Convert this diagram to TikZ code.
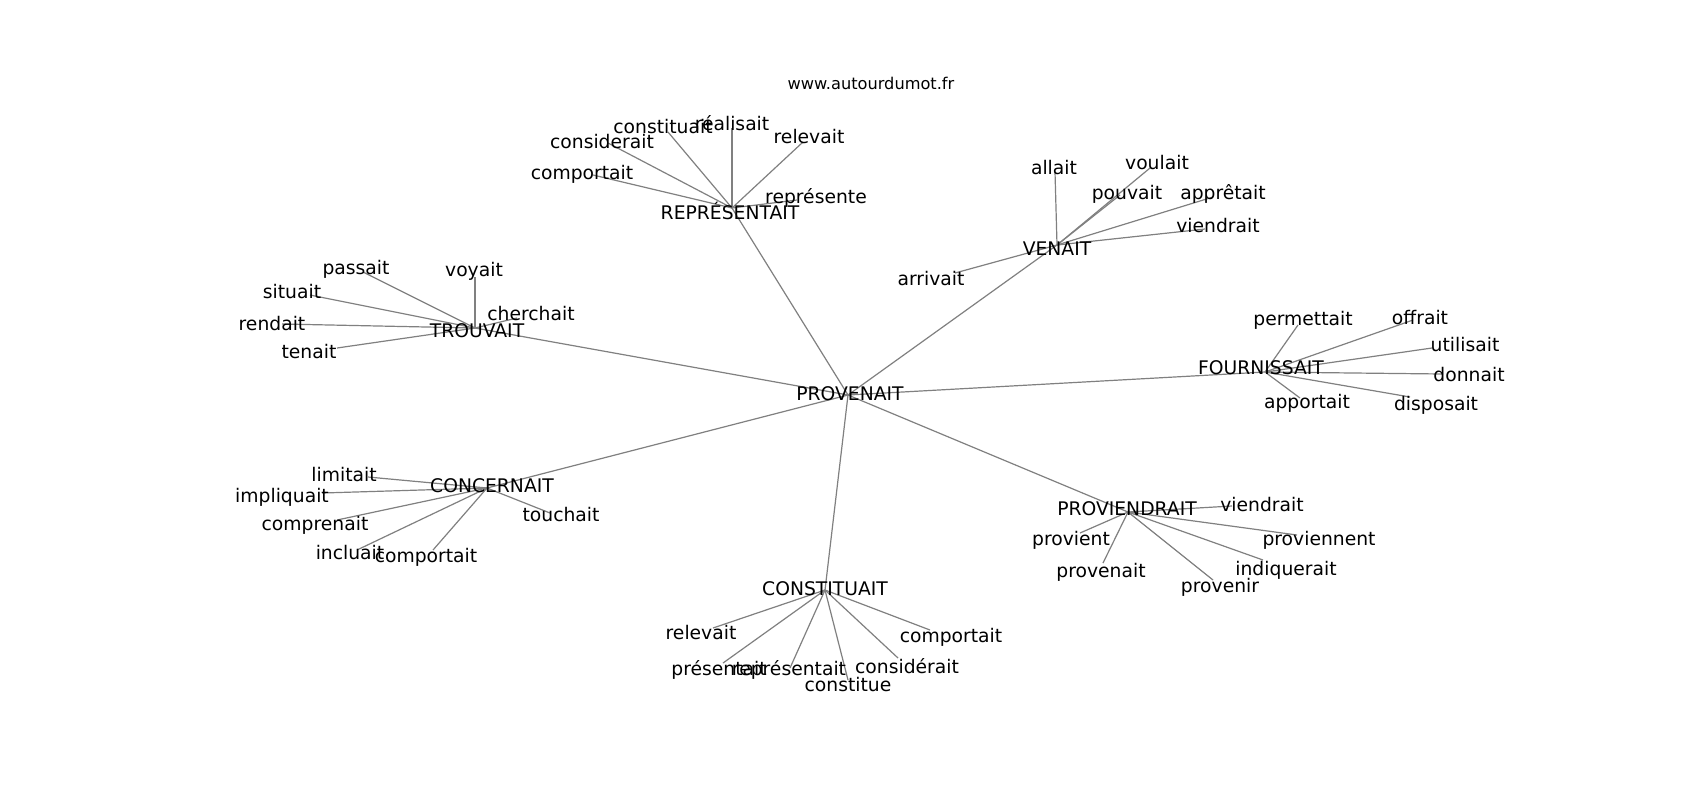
\documentclass[tikz,border=0pt]{standalone}
\usepackage{fontspec}
\setmainfont{DejaVu Sans}
\begin{document}
\begin{tikzpicture}[x=0.5pt,y=-0.5pt,
  edge/.style={draw=black!50,line width=0.6pt},
  lbl/.style={inner sep=0pt,anchor=base,font=\fontsize{9.37}{11}\selectfont,text=black},
  ttl/.style={inner sep=0pt,anchor=base,font=\fontsize{8.1}{10}\selectfont,text=black}]
\useasboundingbox[fill=white] (0,0) rectangle (1700,800);
% node points
\coordinate (hub) at (848,395);
\coordinate (rep) at (732,208);
\coordinate (comportaitA) at (593,175);
\coordinate (considerait) at (608,143);
\coordinate (constituait) at (668,132);
\coordinate (realisait) at (732,128);
\coordinate (relevaitA) at (803,142);
\coordinate (represente) at (797,200);
\coordinate (ven) at (1057,245);
\coordinate (allait) at (1055,172);
\coordinate (voulait) at (1150,168);
\coordinate (pouvait) at (1120,195);
\coordinate (appretait) at (1213,197);
\coordinate (viendraitA) at (1205,229);
\coordinate (arrivait) at (955,273);
\coordinate (tro) at (475,328);
\coordinate (passait) at (363,272);
\coordinate (voyait) at (475,277);
\coordinate (situait) at (310,295);
\coordinate (cherchait) at (517,318);
\coordinate (rendait) at (282,324);
\coordinate (tenait) at (337,348);
\coordinate (fou) at (1265,372);
\coordinate (permettait) at (1298,325);
\coordinate (offrait) at (1413,320);
\coordinate (utilisait) at (1432,348);
\coordinate (donnait) at (1443,374);
\coordinate (apportait) at (1300,398);
\coordinate (disposait) at (1410,397);
\coordinate (con) at (487,488);
\coordinate (limitait) at (368,477);
\coordinate (impliquait) at (322,493);
\coordinate (comprenait) at (337,520);
\coordinate (touchait) at (550,513);
\coordinate (incluait) at (357,550);
\coordinate (comportaitB) at (433,550);
\coordinate (pro) at (1128,512);
\coordinate (viendraitB) at (1232,506);
\coordinate (provient) at (1080,533);
\coordinate (proviennent) at (1297,535);
\coordinate (indiquerait) at (1263,560);
\coordinate (provenait) at (1103,563);
\coordinate (provenir) at (1213,580);
\coordinate (cst) at (825,590);
\coordinate (relevaitB) at (713,628);
\coordinate (comportaitC) at (930,630);
\coordinate (presentait) at (723,663);
\coordinate (representait) at (790,668);
\coordinate (consideraitB) at (898,658);
\coordinate (constitue) at (848,680);
% edges
\foreach \c in {rep,ven,tro,fou,con,pro,cst} \draw[edge] (hub) -- (\c);
\foreach \c in {comportaitA,considerait,constituait,realisait,relevaitA,represente} \draw[edge] (rep) -- (\c);
\foreach \c in {allait,voulait,pouvait,appretait,viendraitA,arrivait} \draw[edge] (ven) -- (\c);
\foreach \c in {passait,voyait,situait,cherchait,rendait,tenait} \draw[edge] (tro) -- (\c);
\foreach \c in {permettait,offrait,utilisait,donnait,apportait,disposait} \draw[edge] (fou) -- (\c);
\foreach \c in {limitait,impliquait,comprenait,touchait,incluait,comportaitB} \draw[edge] (con) -- (\c);
\foreach \c in {viendraitB,provient,proviennent,indiquerait,provenait,provenir} \draw[edge] (pro) -- (\c);
\foreach \c in {relevaitB,comportaitC,presentait,representait,consideraitB,constitue} \draw[edge] (cst) -- (\c);
% labels
\node[ttl] (title) at (871,89) {www.autourdumot.fr};
\node[lbl] (hub-t) at (850,400) {PROVENAIT};
\node[lbl] (rep-t) at (730,219) {REPRÉSENTAIT};
\node[lbl] (comportaitA-t) at (582,179) {comportait};
\node[lbl] (considerait-t) at (602,148) {considerait};
\node[lbl] (constituait-t) at (663,133) {constituait};
\node[lbl] (realisait-t) at (732,130) {réalisait};
\node[lbl] (relevaitA-t) at (809,143) {relevait};
\node[lbl] (represente-t) at (816,203) {représente};
\node[lbl] (ven-t) at (1057,255) {VENAIT};
\node[lbl] (allait-t) at (1054,174) {allait};
\node[lbl] (voulait-t) at (1157,169) {voulait};
\node[lbl] (pouvait-t) at (1127,199) {pouvait};
\node[lbl] (appretait-t) at (1223,199) {apprêtait};
\node[lbl] (viendraitA-t) at (1218,232) {viendrait};
\node[lbl] (arrivait-t) at (931,285) {arrivait};
\node[lbl] (tro-t) at (477,337) {TROUVAIT};
\node[lbl] (passait-t) at (356,274) {passait};
\node[lbl] (voyait-t) at (474,276) {voyait};
\node[lbl] (situait-t) at (292,298) {situait};
\node[lbl] (cherchait-t) at (531,320) {cherchait};
\node[lbl] (rendait-t) at (272,330) {rendait};
\node[lbl] (tenait-t) at (309,358) {tenait};
\node[lbl] (fou-t) at (1261,374) {FOURNISSAIT};
\node[lbl] (permettait-t) at (1303,325) {permettait};
\node[lbl] (offrait-t) at (1420,324) {offrait};
\node[lbl] (utilisait-t) at (1465,351) {utilisait};
\node[lbl] (donnait-t) at (1469,381) {donnait};
\node[lbl] (apportait-t) at (1307,408) {apportait};
\node[lbl] (disposait-t) at (1436,410) {disposait};
\node[lbl] (con-t) at (492,492) {CONCERNAIT};
\node[lbl] (limitait-t) at (344,481) {limitait};
\node[lbl] (impliquait-t) at (282,502) {impliquait};
\node[lbl] (comprenait-t) at (315,530) {comprenait};
\node[lbl] (touchait-t) at (561,521) {touchait};
\node[lbl] (incluait-t) at (350,559) {incluait};
\node[lbl] (comportaitB-t) at (426,562) {comportait};
\node[lbl] (pro-t) at (1127,515) {PROVIENDRAIT};
\node[lbl] (viendraitB-t) at (1262,511) {viendrait};
\node[lbl] (provient-t) at (1071,545) {provient};
\node[lbl] (proviennent-t) at (1319,545) {proviennent};
\node[lbl] (indiquerait-t) at (1286,575) {indiquerait};
\node[lbl] (provenait-t) at (1101,577) {provenait};
\node[lbl] (provenir-t) at (1220,592) {provenir};
\node[lbl] (cst-t) at (825,595) {CONSTITUAIT};
\node[lbl] (relevaitB-t) at (701,639) {relevait};
\node[lbl] (comportaitC-t) at (951,642) {comportait};
\node[lbl] (presentait-t) at (719,675) {présentait};
\node[lbl] (representait-t) at (789,675) {représentait};
\node[lbl] (consideraitB-t) at (907,673) {considérait};
\node[lbl] (constitue-t) at (848,691) {constitue};
\end{tikzpicture}
\end{document}
